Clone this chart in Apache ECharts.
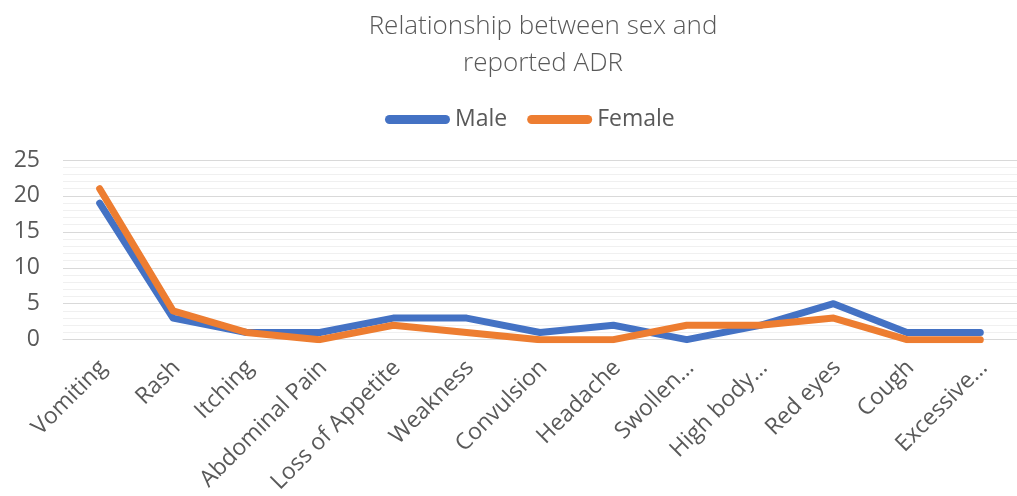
<!DOCTYPE html>
<html>
<head>
<meta charset="utf-8">
<title>Relationship between sex and reported ADR</title>
<script src="https://cdn.jsdelivr.net/npm/echarts@6/dist/echarts.min.js"></script>
<style>
  html, body { margin: 0; padding: 0; background: #fff; }
  #main { width: 1017px; height: 496px; }
</style>
</head>
<body>
<div id="main"></div>
<script>
// chart data
var categories = ['Vomiting', 'Rash', 'Itching', 'Abdominal Pain', 'Loss of Appetite', 'Weakness',
  'Convulsion', 'Headache', 'Swollen\u2026', 'High body\u2026', 'Red eyes', 'Cough', 'Excessive\u2026']
var male = [19, 3, 1, 1, 3, 3, 1, 2, 0, 2, 5, 1, 1]
var female = [21, 4, 1, 0, 2, 1, 0, 0, 2, 2, 3, 0, 0]
var yTicks = [0, 5, 10, 15, 20, 25]

var textColor = '#595959'
var font = '"Open Sans", "Noto Sans", sans-serif'
// rounded bar used as legend key
var legendIcon = 'path://M4.5,0 L60.5,0 A4.5,4.5 0 0 1 60.5,9 L4.5,9 A4.5,4.5 0 0 1 4.5,0 Z'

var chartDom = document.getElementById('main')
var myChart = echarts.init(chartDom)
var option = {
  animation: false,
  backgroundColor: '#fff',
  title: {
    text: 'Relationship between sex and\nreported ADR',
    left: 538,
    top: 3,
    textAlign: 'center',
    textStyle: {
      fontFamily: font,
      fontWeight: 300,
      fontSize: 26,
      lineHeight: 37,
      color: textColor
    }
  },
  legend: {
    left: 380,
    top: 103,
    itemWidth: 65,
    itemHeight: 9,
    itemGap: 20,
    icon: legendIcon,
    textStyle: { fontFamily: font, fontSize: 23, color: textColor },
    data: ['Male', 'Female']
  },
  grid: {
    left: 63,
    top: 160,
    width: 967,
    height: 180,
    containLabel: false
  },
  xAxis: {
    type: 'category',
    data: categories,
    boundaryGap: true,
    axisLine: { lineStyle: { color: '#d9d9d9', width: 1 } },
    axisTick: { show: false },
    axisLabel: {
      rotate: 45,
      interval: 0,
      margin: 28,
      padding: [0, -5, 0, 0],
      fontFamily: font,
      fontSize: 23,
      color: textColor
    }
  },
  yAxis: {
    type: 'value',
    min: yTicks[0],
    max: yTicks[yTicks.length - 1],
    interval: 5,
    axisLine: { show: false },
    axisTick: { show: false },
    axisLabel: {
      margin: 23,
      fontFamily: font,
      fontSize: 23,
      color: textColor
    },
    splitLine: { lineStyle: { color: '#d9d9d9', width: 1 } },
    minorTick: { show: false, splitNumber: 5 },
    minorSplitLine: { show: true, lineStyle: { color: '#f0f0f0', width: 1 } }
  },
  series: [
    {
      name: 'Male',
      type: 'line',
      data: male,
      symbol: 'none',
      color: '#4472c4',
      lineStyle: { width: 7, cap: 'round', join: 'round' },
      z: 2
    },
    {
      name: 'Female',
      type: 'line',
      data: female,
      symbol: 'none',
      color: '#ed7d31',
      lineStyle: { width: 7, cap: 'round', join: 'round' },
      z: 3
    }
  ]
}
option && myChart.setOption(option)
</script>
</body>
</html>
